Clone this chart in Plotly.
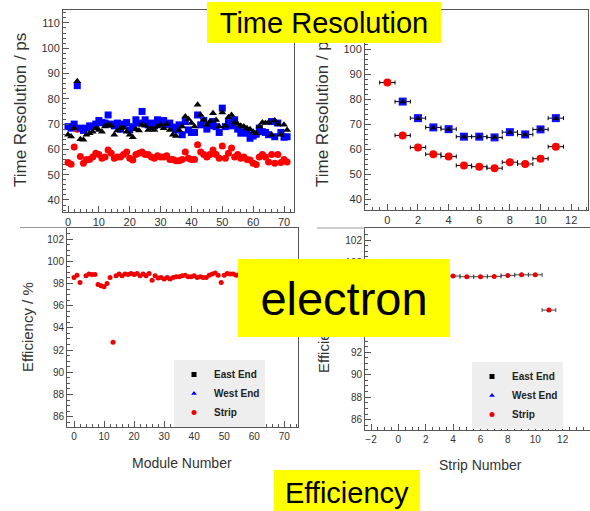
import plotly.graph_objects as go

W, H = 590, 511

# ---------------- data ----------------
modules = list(range(72))
tr_east = [65.8, 65.1, 68.4, 86.9, 64.0, 63.8, 65.8, 66.4, 67.0, 68.4,
           67.7, 67.0, 69.0, 69.7, 69.3, 65.8, 67.5, 68.4, 68.6, 67.0,
           65.8, 64.8, 68.0, 67.5, 69.7, 69.3, 67.7, 68.4, 67.7, 69.0,
           69.7, 68.4, 70.0, 67.7, 65.8, 65.3, 67.7, 69.0, 73.0, 72.0,
           70.4, 69.0, 77.6, 73.6, 71.6, 69.7, 71.0, 74.3, 71.6, 69.0,
           74.6, 69.3, 72.7, 73.6, 70.6, 70.0, 69.3, 69.0, 68.4, 68.0,
           67.0, 66.4, 69.0, 70.6, 70.4, 70.6, 65.8, 71.4, 70.0, 65.8,
           69.7, 67.7]
tr_west = [69.0, 68.4, 70.0, 85.2, 68.4, 67.5, 68.4, 69.3, 69.0, 70.0,
           71.4, 70.6, 70.4, 73.6, 70.0, 69.3, 70.4, 68.0, 70.0, 70.6,
           67.7, 69.0, 71.7, 70.4, 75.0, 71.7, 69.7, 70.4, 69.3, 71.7,
           70.0, 71.4, 69.7, 70.4, 68.8, 67.7, 69.7, 65.8, 71.0, 67.7,
           66.7, 66.7, 73.6, 69.7, 71.4, 68.0, 69.3, 71.0, 69.0, 66.7,
           76.3, 69.0, 70.6, 69.3, 71.7, 68.0, 66.4, 67.0, 66.4, 64.4,
           65.3, 66.0, 68.4, 67.0, 66.7, 65.8, 71.0, 65.0, 70.4, 66.7,
           64.8, 65.0]
tr_strip = [54.8, 54.1, 60.9, 68.0, 57.2, 54.5, 56.0, 56.0, 57.0, 58.5,
            58.0, 56.5, 57.0, 59.8, 58.5, 56.5, 57.0, 57.0, 58.0, 59.0,
            56.5, 55.8, 58.0, 58.5, 59.0, 58.0, 58.0, 57.0, 56.5, 57.5,
            57.0, 57.0, 57.5, 56.0, 56.0, 55.5, 55.5, 56.0, 59.0, 56.5,
            56.0, 56.0, 61.8, 59.0, 58.0, 57.0, 58.0, 59.8, 58.0, 56.5,
            61.3, 56.5, 58.5, 60.5, 57.0, 58.0, 56.5, 57.0, 56.0, 55.8,
            54.5, 54.0, 57.0, 58.0, 57.0, 55.0, 58.0, 54.5, 58.0, 54.8,
            56.0, 55.0]

strips = list(range(12))
strip_half_width = [0.5] * 12
trs_east = [None, 78.9, 72.3, 68.6, 68.0, 65.0, 65.0, 64.8, 66.8, 65.8, 68.0, 72.3]
trs_west = [None, 79.0, 72.4, 68.7, 68.0, 65.0, 65.0, 64.7, 66.8, 65.9, 67.9, 72.4]
trs_strip = [86.6, 65.5, 60.7, 58.0, 57.1, 53.5, 53.0, 52.4, 54.8, 54.1, 56.2, 61.0]

eff_strip_mod = [98.55, 98.75, 98.1, None, 98.7, 98.85, 98.8, 98.8, 97.9, 97.8,
                 97.7, 98.0, 98.55, 92.7, 98.7, 98.85, 98.7, 98.85, 98.8, 98.9,
                 98.8, 98.9, 98.7, 98.85, 98.7, 98.9, 98.3, 98.7, 98.5, 98.55,
                 98.4, 98.55, 98.4, 98.55, 98.6, 98.6, 98.7, 98.75, 98.6, 98.6,
                 98.7, 98.55, 98.6, 98.55, 98.55, 98.75, 98.85, 98.95, 98.75, 98.1,
                 98.75, 98.9, 98.85, 98.85, 98.75, 98.8, 98.7, 98.8, 98.7, 98.8,
                 98.75, 98.7, 98.8, 98.7, 98.75, 98.8, 98.7, 98.75, 98.8, 98.7,
                 98.75, 98.7]
eff_strip_str = [98.7, 98.75, 98.75, 98.75, 98.79, 98.73, 98.73, 98.76, 98.85, 98.9, 98.9, 95.76]

legend_names = ["East End", "West End", "Strip"]
label_texts = ["Time Resolution", "electron", "Efficiency"]

# ---------------- helpers ----------------
def px_x(p):
    return p / W

def px_y(p):
    return 1 - p / H

FONT = "Liberation Sans"
LINE = "#555555"

def axis(domain, rng, dtick, mdtick, anchor, fsize, mirror=True):
    return dict(domain=domain, range=rng, dtick=dtick, tick0=0, anchor=anchor,
                ticks="inside", ticklen=6, tickwidth=1, tickcolor=LINE,
                showline=True, linecolor=LINE, linewidth=1, mirror=mirror,
                showgrid=False, zeroline=False, automargin=False,
                tickfont=dict(family=FONT, size=fsize, color="#333333"),
                minor=dict(dtick=mdtick, tick0=0, ticks="inside", ticklen=3,
                           tickwidth=1, tickcolor=LINE, showgrid=False))

fig = go.Figure()

# ---- top-left: time resolution vs module ----
fig.add_trace(go.Scatter(x=modules, y=tr_strip, mode="markers", xaxis="x", yaxis="y",
                         marker=dict(symbol="circle", size=7, color="#ff0000"), showlegend=False))
fig.add_trace(go.Scatter(x=modules, y=tr_west, mode="markers", xaxis="x", yaxis="y",
                         marker=dict(symbol="square", size=7, color="#0000ff"), showlegend=False))
fig.add_trace(go.Scatter(x=modules, y=tr_east, mode="markers", xaxis="x", yaxis="y",
                         marker=dict(symbol="triangle-up", size=7, color="#000000"), showlegend=False))

# ---- top-right: time resolution vs strip ----
ebar = dict(type="data", array=strip_half_width, symmetric=True, color="#000000", thickness=1, width=2)
fig.add_trace(go.Scatter(x=strips, y=trs_west, mode="markers", xaxis="x2", yaxis="y2",
                         error_x=ebar, marker=dict(symbol="square", size=8, color="#1010ff"),
                         showlegend=False))
fig.add_trace(go.Scatter(x=strips, y=trs_east, mode="markers", xaxis="x2", yaxis="y2",
                         marker=dict(symbol="triangle-up", size=6, color="#000000"), showlegend=False))
fig.add_trace(go.Scatter(x=strips, y=trs_strip, mode="markers", xaxis="x2", yaxis="y2",
                         error_x=ebar, marker=dict(symbol="circle", size=8, color="#ff0000"),
                         showlegend=False))

# ---- bottom-left: efficiency vs module ----
leg_sym = ["square", "triangle-up", "circle"]
leg_col = ["#000000", "#0000ff", "#ff0000"]
for i in range(2):
    fig.add_trace(go.Scatter(x=[None], y=[None], mode="markers", xaxis="x3", yaxis="y3",
                             name=legend_names[i], legend="legend", legendrank=i,
                             marker=dict(symbol=leg_sym[i], size=5, color=leg_col[i])))
fig.add_trace(go.Scatter(x=modules, y=eff_strip_mod, mode="markers", xaxis="x3", yaxis="y3",
                         name=legend_names[2], legend="legend", legendrank=2,
                         marker=dict(symbol="circle", size=5, color="#ee0000")))

# ---- bottom-right: efficiency vs strip ----
ebar2 = dict(type="data", array=strip_half_width, symmetric=True, color="#444444", thickness=1, width=2)
for i in range(2):
    fig.add_trace(go.Scatter(x=[None], y=[None], mode="markers", xaxis="x4", yaxis="y4",
                             name=legend_names[i], legend="legend2", legendrank=i,
                             marker=dict(symbol=leg_sym[i], size=5, color=leg_col[i])))
fig.add_trace(go.Scatter(x=strips, y=eff_strip_str, mode="markers", xaxis="x4", yaxis="y4",
                         name=legend_names[2], legend="legend2", legendrank=2, error_x=ebar2,
                         marker=dict(symbol="circle", size=5, color="#ee0000")))

legend_style = dict(xanchor="left", yanchor="top", bgcolor="#eeeeee", borderwidth=0,
                    font=dict(family=FONT, size=10, color="#222222", weight="bold"),
                    itemwidth=30, tracegroupgap=0)

fig.update_layout(
    width=W, height=H, autosize=False,
    margin=dict(l=0, r=0, t=0, b=0),
    paper_bgcolor="white", plot_bgcolor="white",
    xaxis=axis([px_x(63), px_x(294)], [-1.62, 73.24], 10, 2, "y", 11),
    yaxis=axis([px_y(212), px_y(10)], [35.25, 115.1], 10, 2, "x", 11),
    xaxis2=axis([px_x(365), px_x(588)], [-1.46, 13.1], 2, 0.5, "y2", 11),
    yaxis2=axis([px_y(210), px_y(10)], [35.7, 115.6], 10, 2, "x2", 11),
    xaxis3=axis([px_x(67), px_x(298)], [-2.33, 74.56], 10, 2, "y3", 10),
    yaxis3=axis([px_y(427), px_y(228)], [85.07, 103.0], 2, 0.5, "x3", 10),
    xaxis4=axis([px_x(365), 1.0], [-2.44, 14.0], 2, 0.5, "y4", 10),
    yaxis4=axis([px_y(430), px_y(228)], [85.08, 103.07], 2, 0.5, "x4", 10, mirror=False),
    legend=dict(x=px_x(174), y=px_y(360), **legend_style),
    legend2=dict(x=px_x(472), y=px_y(362), **legend_style),
)

# picture-border lines
for (x0, y0, x1, y1) in [(20, 227.5, 67, 227.5), (317, 228, 365, 228)]:
    fig.add_shape(type="line", xref="paper", yref="paper",
                  x0=px_x(x0), x1=px_x(x1), y0=px_y(y0), y1=px_y(y1),
                  line=dict(color="#999999", width=1))

def text(t, x, y, size, angle=0, color="#333333"):
    fig.add_annotation(text=t, xref="paper", yref="paper", x=px_x(x), y=px_y(y),
                       xanchor="center", yanchor="middle", showarrow=False, textangle=angle,
                       font=dict(family=FONT, size=size, color=color))

# axis titles
text("Time Resolution / ps", 20, 110, 17, -90)
text("Time Resolution / ps", 322, 110, 17, -90)
text("Efficiency / %", 27, 327, 15, -90)
text("Efficiency / %", 323, 328, 15, -90)
text("Module Number", 182, 463, 14)
text("Strip Number", 480, 465, 14)

# yellow label boxes (drawn last so they cover what lies beneath, as in the reference)
boxes = [(207, 2, 441, 43, 29), (238, 259, 450, 337, 47), (274, 470, 420, 516, 29)]
for t, (x0, y0, x1, y1, fs) in zip(label_texts, boxes):
    fig.add_annotation(text=t, xref="paper", yref="paper",
                       x=px_x((x0 + x1) / 2), y=px_y((y0 + y1) / 2),
                       xanchor="center", yanchor="middle", showarrow=False,
                       width=x1 - x0, height=y1 - y0, align="center", valign="middle",
                       bgcolor="#ffff00", borderpad=0, borderwidth=0,
                       font=dict(family=FONT, size=fs, color="#000000"))

fig.write_html("out.html", config={"displayModeBar": False},
               post_script="document.body.style.margin='0';")
